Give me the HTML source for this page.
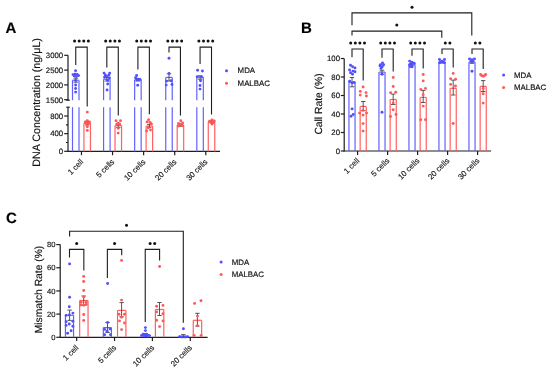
<!DOCTYPE html>
<html><head><meta charset="utf-8"><style>
html,body{margin:0;padding:0;background:#fff;}
body{width:550px;height:373px;overflow:hidden;}
svg{display:block;font-family:'Liberation Sans',sans-serif;text-rendering:geometricPrecision;filter:blur(0.3px);}
</style></head><body>
<svg width="550" height="373" viewBox="0 0 550 373" style="font-family:'Liberation Sans',sans-serif">
<rect width="550" height="373" fill="#fff"/>
<text x="5.60" y="32.80" font-size="15" text-anchor="start" font-weight="bold" fill="#000" stroke="#000" stroke-width="0.15">A</text>
<line x1="68.00" y1="55.30" x2="68.00" y2="100.20" stroke="#1e1e1e" stroke-width="1.2" />
<line x1="66.30" y1="100.20" x2="69.80" y2="100.20" stroke="#1e1e1e" stroke-width="1.2" />
<line x1="68.00" y1="107.20" x2="68.00" y2="151.90" stroke="#1e1e1e" stroke-width="1.2" />
<line x1="66.30" y1="107.20" x2="69.80" y2="107.20" stroke="#1e1e1e" stroke-width="1.2" />
<line x1="64.20" y1="55.30" x2="68.00" y2="55.30" stroke="#1e1e1e" stroke-width="1.2" />
<text x="63.20" y="58.10" font-size="7.8" text-anchor="end" font-weight="normal" fill="#111" stroke="#111" stroke-width="0.15">3000</text>
<line x1="64.20" y1="70.10" x2="68.00" y2="70.10" stroke="#1e1e1e" stroke-width="1.2" />
<text x="63.20" y="72.90" font-size="7.8" text-anchor="end" font-weight="normal" fill="#111" stroke="#111" stroke-width="0.15">2500</text>
<line x1="64.20" y1="84.90" x2="68.00" y2="84.90" stroke="#1e1e1e" stroke-width="1.2" />
<text x="63.20" y="87.70" font-size="7.8" text-anchor="end" font-weight="normal" fill="#111" stroke="#111" stroke-width="0.15">2000</text>
<line x1="64.20" y1="99.70" x2="68.00" y2="99.70" stroke="#1e1e1e" stroke-width="1.2" />
<text x="63.20" y="102.50" font-size="7.8" text-anchor="end" font-weight="normal" fill="#111" stroke="#111" stroke-width="0.15">1500</text>
<line x1="64.20" y1="116.02" x2="68.00" y2="116.02" stroke="#1e1e1e" stroke-width="1.2" />
<text x="63.20" y="118.82" font-size="7.8" text-anchor="end" font-weight="normal" fill="#111" stroke="#111" stroke-width="0.15">800</text>
<line x1="64.20" y1="133.66" x2="68.00" y2="133.66" stroke="#1e1e1e" stroke-width="1.2" />
<text x="63.20" y="136.46" font-size="7.8" text-anchor="end" font-weight="normal" fill="#111" stroke="#111" stroke-width="0.15">400</text>
<line x1="64.20" y1="151.30" x2="68.00" y2="151.30" stroke="#1e1e1e" stroke-width="1.2" />
<text x="63.20" y="154.10" font-size="7.8" text-anchor="end" font-weight="normal" fill="#111" stroke="#111" stroke-width="0.15">0</text>
<line x1="66.00" y1="124.84" x2="68.00" y2="124.84" stroke="#1e1e1e" stroke-width="1.2" />
<line x1="66.00" y1="142.48" x2="68.00" y2="142.48" stroke="#1e1e1e" stroke-width="1.2" />
<line x1="67.50" y1="151.40" x2="220.00" y2="151.40" stroke="#1e1e1e" stroke-width="1.2" />
<line x1="81.47" y1="151.40" x2="81.47" y2="155.20" stroke="#1e1e1e" stroke-width="1.2" />
<text x="83.77" y="162.40" font-size="7.8" text-anchor="end" font-weight="normal" fill="#111" stroke="#111" stroke-width="0.15" transform="rotate(-45 83.77 162.40)">1 cell</text>
<line x1="112.56" y1="151.40" x2="112.56" y2="155.20" stroke="#1e1e1e" stroke-width="1.2" />
<text x="114.86" y="162.40" font-size="7.8" text-anchor="end" font-weight="normal" fill="#111" stroke="#111" stroke-width="0.15" transform="rotate(-45 114.86 162.40)">5 cells</text>
<line x1="143.63" y1="151.40" x2="143.63" y2="155.20" stroke="#1e1e1e" stroke-width="1.2" />
<text x="145.94" y="162.40" font-size="7.8" text-anchor="end" font-weight="normal" fill="#111" stroke="#111" stroke-width="0.15" transform="rotate(-45 145.94 162.40)">10 cells</text>
<line x1="174.72" y1="151.40" x2="174.72" y2="155.20" stroke="#1e1e1e" stroke-width="1.2" />
<text x="177.02" y="162.40" font-size="7.8" text-anchor="end" font-weight="normal" fill="#111" stroke="#111" stroke-width="0.15" transform="rotate(-45 177.02 162.40)">20 cells</text>
<line x1="205.79" y1="151.40" x2="205.79" y2="155.20" stroke="#1e1e1e" stroke-width="1.2" />
<text x="208.09" y="162.40" font-size="7.8" text-anchor="end" font-weight="normal" fill="#111" stroke="#111" stroke-width="0.15" transform="rotate(-45 208.09 162.40)">30 cells</text>
<text x="40.30" y="102.40" font-size="10.7" text-anchor="middle" font-weight="normal" fill="#111" stroke="#111" stroke-width="0.15" transform="rotate(-90 40.30 102.40)">DNA Concentration (ng/&#956;L)</text>
<line x1="72.50" y1="80.20" x2="72.50" y2="100.20" stroke="#6262ff" stroke-width="1.2" />
<line x1="79.00" y1="80.20" x2="79.00" y2="100.20" stroke="#6262ff" stroke-width="1.2" />
<line x1="72.50" y1="107.20" x2="72.50" y2="151.40" stroke="#6262ff" stroke-width="1.2" />
<line x1="79.00" y1="107.20" x2="79.00" y2="151.40" stroke="#6262ff" stroke-width="1.2" />
<line x1="72.50" y1="80.20" x2="79.00" y2="80.20" stroke="#6262ff" stroke-width="1.2" />
<line x1="83.95" y1="123.30" x2="83.95" y2="151.40" stroke="#ff6060" stroke-width="1.2" />
<line x1="90.45" y1="123.30" x2="90.45" y2="151.40" stroke="#ff6060" stroke-width="1.2" />
<line x1="83.95" y1="123.30" x2="90.45" y2="123.30" stroke="#ff6060" stroke-width="1.2" />
<line x1="103.58" y1="79.20" x2="103.58" y2="100.20" stroke="#6262ff" stroke-width="1.2" />
<line x1="110.08" y1="79.20" x2="110.08" y2="100.20" stroke="#6262ff" stroke-width="1.2" />
<line x1="103.58" y1="107.20" x2="103.58" y2="151.40" stroke="#6262ff" stroke-width="1.2" />
<line x1="110.08" y1="107.20" x2="110.08" y2="151.40" stroke="#6262ff" stroke-width="1.2" />
<line x1="103.58" y1="79.20" x2="110.08" y2="79.20" stroke="#6262ff" stroke-width="1.2" />
<line x1="115.03" y1="125.60" x2="115.03" y2="151.40" stroke="#ff6060" stroke-width="1.2" />
<line x1="121.53" y1="125.60" x2="121.53" y2="151.40" stroke="#ff6060" stroke-width="1.2" />
<line x1="115.03" y1="125.60" x2="121.53" y2="125.60" stroke="#ff6060" stroke-width="1.2" />
<line x1="134.66" y1="79.80" x2="134.66" y2="100.20" stroke="#6262ff" stroke-width="1.2" />
<line x1="141.16" y1="79.80" x2="141.16" y2="100.20" stroke="#6262ff" stroke-width="1.2" />
<line x1="134.66" y1="107.20" x2="134.66" y2="151.40" stroke="#6262ff" stroke-width="1.2" />
<line x1="141.16" y1="107.20" x2="141.16" y2="151.40" stroke="#6262ff" stroke-width="1.2" />
<line x1="134.66" y1="79.80" x2="141.16" y2="79.80" stroke="#6262ff" stroke-width="1.2" />
<line x1="146.11" y1="126.10" x2="146.11" y2="151.40" stroke="#ff6060" stroke-width="1.2" />
<line x1="152.61" y1="126.10" x2="152.61" y2="151.40" stroke="#ff6060" stroke-width="1.2" />
<line x1="146.11" y1="126.10" x2="152.61" y2="126.10" stroke="#ff6060" stroke-width="1.2" />
<line x1="165.74" y1="77.40" x2="165.74" y2="100.20" stroke="#6262ff" stroke-width="1.2" />
<line x1="172.24" y1="77.40" x2="172.24" y2="100.20" stroke="#6262ff" stroke-width="1.2" />
<line x1="165.74" y1="107.20" x2="165.74" y2="151.40" stroke="#6262ff" stroke-width="1.2" />
<line x1="172.24" y1="107.20" x2="172.24" y2="151.40" stroke="#6262ff" stroke-width="1.2" />
<line x1="165.74" y1="77.40" x2="172.24" y2="77.40" stroke="#6262ff" stroke-width="1.2" />
<line x1="177.19" y1="125.00" x2="177.19" y2="151.40" stroke="#ff6060" stroke-width="1.2" />
<line x1="183.69" y1="125.00" x2="183.69" y2="151.40" stroke="#ff6060" stroke-width="1.2" />
<line x1="177.19" y1="125.00" x2="183.69" y2="125.00" stroke="#ff6060" stroke-width="1.2" />
<line x1="196.82" y1="77.20" x2="196.82" y2="100.20" stroke="#6262ff" stroke-width="1.2" />
<line x1="203.32" y1="77.20" x2="203.32" y2="100.20" stroke="#6262ff" stroke-width="1.2" />
<line x1="196.82" y1="107.20" x2="196.82" y2="151.40" stroke="#6262ff" stroke-width="1.2" />
<line x1="203.32" y1="107.20" x2="203.32" y2="151.40" stroke="#6262ff" stroke-width="1.2" />
<line x1="196.82" y1="77.20" x2="203.32" y2="77.20" stroke="#6262ff" stroke-width="1.2" />
<line x1="208.27" y1="121.70" x2="208.27" y2="151.40" stroke="#ff6060" stroke-width="1.2" />
<line x1="214.77" y1="121.70" x2="214.77" y2="151.40" stroke="#ff6060" stroke-width="1.2" />
<line x1="208.27" y1="121.70" x2="214.77" y2="121.70" stroke="#ff6060" stroke-width="1.2" />
<path d="M75.75,65.10 L75.75,47.10 L87.20,47.10 L87.20,106.40" stroke="#1e1e1e" stroke-width="1.1" fill="none"/>
<circle cx="74.57" cy="41.00" r="1.5" fill="#111"/>
<circle cx="79.17" cy="41.00" r="1.5" fill="#111"/>
<circle cx="83.77" cy="41.00" r="1.5" fill="#111"/>
<circle cx="88.37" cy="41.00" r="1.5" fill="#111"/>
<path d="M106.83,67.50 L106.83,47.10 L118.28,47.10 L118.28,115.40" stroke="#1e1e1e" stroke-width="1.1" fill="none"/>
<circle cx="105.66" cy="41.00" r="1.5" fill="#111"/>
<circle cx="110.25" cy="41.00" r="1.5" fill="#111"/>
<circle cx="114.86" cy="41.00" r="1.5" fill="#111"/>
<circle cx="119.45" cy="41.00" r="1.5" fill="#111"/>
<path d="M137.91,69.60 L137.91,47.10 L149.36,47.10 L149.36,114.30" stroke="#1e1e1e" stroke-width="1.1" fill="none"/>
<circle cx="136.73" cy="41.00" r="1.5" fill="#111"/>
<circle cx="141.33" cy="41.00" r="1.5" fill="#111"/>
<circle cx="145.93" cy="41.00" r="1.5" fill="#111"/>
<circle cx="150.53" cy="41.00" r="1.5" fill="#111"/>
<path d="M168.99,52.40 L168.99,47.10 L180.44,47.10 L180.44,115.40" stroke="#1e1e1e" stroke-width="1.1" fill="none"/>
<circle cx="167.81" cy="41.00" r="1.5" fill="#111"/>
<circle cx="172.41" cy="41.00" r="1.5" fill="#111"/>
<circle cx="177.01" cy="41.00" r="1.5" fill="#111"/>
<circle cx="181.62" cy="41.00" r="1.5" fill="#111"/>
<path d="M200.07,64.10 L200.07,47.10 L211.52,47.10 L211.52,114.50" stroke="#1e1e1e" stroke-width="1.1" fill="none"/>
<circle cx="198.89" cy="41.00" r="1.5" fill="#111"/>
<circle cx="203.49" cy="41.00" r="1.5" fill="#111"/>
<circle cx="208.09" cy="41.00" r="1.5" fill="#111"/>
<circle cx="212.69" cy="41.00" r="1.5" fill="#111"/>
<line x1="75.75" y1="78.20" x2="75.75" y2="82.20" stroke="#444" stroke-width="0.9" />
<line x1="73.55" y1="78.20" x2="77.95" y2="78.20" stroke="#444" stroke-width="0.9" />
<line x1="73.55" y1="82.20" x2="77.95" y2="82.20" stroke="#444" stroke-width="0.9" />
<line x1="106.83" y1="77.40" x2="106.83" y2="81.00" stroke="#444" stroke-width="0.9" />
<line x1="104.63" y1="77.40" x2="109.03" y2="77.40" stroke="#444" stroke-width="0.9" />
<line x1="104.63" y1="81.00" x2="109.03" y2="81.00" stroke="#444" stroke-width="0.9" />
<line x1="137.91" y1="78.60" x2="137.91" y2="81.00" stroke="#444" stroke-width="0.9" />
<line x1="135.71" y1="78.60" x2="140.11" y2="78.60" stroke="#444" stroke-width="0.9" />
<line x1="135.71" y1="81.00" x2="140.11" y2="81.00" stroke="#444" stroke-width="0.9" />
<line x1="168.99" y1="73.80" x2="168.99" y2="81.00" stroke="#444" stroke-width="0.9" />
<line x1="166.79" y1="73.80" x2="171.19" y2="73.80" stroke="#444" stroke-width="0.9" />
<line x1="166.79" y1="81.00" x2="171.19" y2="81.00" stroke="#444" stroke-width="0.9" />
<line x1="200.07" y1="75.80" x2="200.07" y2="79.20" stroke="#444" stroke-width="0.9" />
<line x1="197.87" y1="75.80" x2="202.27" y2="75.80" stroke="#444" stroke-width="0.9" />
<line x1="197.87" y1="79.20" x2="202.27" y2="79.20" stroke="#444" stroke-width="0.9" />
<line x1="87.20" y1="121.60" x2="87.20" y2="125.00" stroke="#444" stroke-width="0.9" />
<line x1="85.00" y1="121.60" x2="89.40" y2="121.60" stroke="#444" stroke-width="0.9" />
<line x1="85.00" y1="125.00" x2="89.40" y2="125.00" stroke="#444" stroke-width="0.9" />
<line x1="118.28" y1="123.80" x2="118.28" y2="127.40" stroke="#444" stroke-width="0.9" />
<line x1="116.08" y1="123.80" x2="120.48" y2="123.80" stroke="#444" stroke-width="0.9" />
<line x1="116.08" y1="127.40" x2="120.48" y2="127.40" stroke="#444" stroke-width="0.9" />
<line x1="149.36" y1="124.40" x2="149.36" y2="127.80" stroke="#444" stroke-width="0.9" />
<line x1="147.16" y1="124.40" x2="151.56" y2="124.40" stroke="#444" stroke-width="0.9" />
<line x1="147.16" y1="127.80" x2="151.56" y2="127.80" stroke="#444" stroke-width="0.9" />
<line x1="180.44" y1="124.00" x2="180.44" y2="126.20" stroke="#444" stroke-width="0.9" />
<line x1="178.24" y1="124.00" x2="182.64" y2="124.00" stroke="#444" stroke-width="0.9" />
<line x1="178.24" y1="126.20" x2="182.64" y2="126.20" stroke="#444" stroke-width="0.9" />
<line x1="211.52" y1="120.80" x2="211.52" y2="122.60" stroke="#444" stroke-width="0.9" />
<line x1="209.32" y1="120.80" x2="213.72" y2="120.80" stroke="#444" stroke-width="0.9" />
<line x1="209.32" y1="122.60" x2="213.72" y2="122.60" stroke="#444" stroke-width="0.9" />
<circle cx="75.60" cy="70.80" r="1.45" fill="#5050ff"/>
<circle cx="73.00" cy="74.60" r="1.45" fill="#5050ff"/>
<circle cx="75.00" cy="74.20" r="1.45" fill="#5050ff"/>
<circle cx="77.20" cy="74.40" r="1.45" fill="#5050ff"/>
<circle cx="78.60" cy="75.60" r="1.45" fill="#5050ff"/>
<circle cx="74.20" cy="76.00" r="1.45" fill="#5050ff"/>
<circle cx="76.40" cy="76.60" r="1.45" fill="#5050ff"/>
<circle cx="75.60" cy="80.50" r="1.45" fill="#5050ff"/>
<circle cx="75.60" cy="85.00" r="1.45" fill="#5050ff"/>
<circle cx="75.60" cy="88.50" r="1.45" fill="#5050ff"/>
<circle cx="75.60" cy="92.10" r="1.45" fill="#5050ff"/>
<circle cx="87.30" cy="112.10" r="1.45" fill="#ff5858"/>
<circle cx="87.30" cy="120.60" r="1.45" fill="#ff5858"/>
<circle cx="85.20" cy="122.00" r="1.45" fill="#ff5858"/>
<circle cx="89.50" cy="122.00" r="1.45" fill="#ff5858"/>
<circle cx="86.40" cy="123.30" r="1.45" fill="#ff5858"/>
<circle cx="88.40" cy="123.60" r="1.45" fill="#ff5858"/>
<circle cx="87.30" cy="126.70" r="1.45" fill="#ff5858"/>
<circle cx="87.30" cy="130.40" r="1.45" fill="#ff5858"/>
<circle cx="104.00" cy="73.10" r="1.45" fill="#5050ff"/>
<circle cx="109.70" cy="73.10" r="1.45" fill="#5050ff"/>
<circle cx="105.30" cy="74.90" r="1.45" fill="#5050ff"/>
<circle cx="108.90" cy="74.90" r="1.45" fill="#5050ff"/>
<circle cx="107.10" cy="76.50" r="1.45" fill="#5050ff"/>
<circle cx="104.60" cy="77.30" r="1.45" fill="#5050ff"/>
<circle cx="109.50" cy="77.90" r="1.45" fill="#5050ff"/>
<circle cx="107.70" cy="80.40" r="1.45" fill="#5050ff"/>
<circle cx="107.70" cy="84.00" r="1.45" fill="#5050ff"/>
<circle cx="107.10" cy="90.00" r="1.45" fill="#5050ff"/>
<circle cx="116.00" cy="120.70" r="1.45" fill="#ff5858"/>
<circle cx="120.50" cy="120.70" r="1.45" fill="#ff5858"/>
<circle cx="118.20" cy="123.30" r="1.45" fill="#ff5858"/>
<circle cx="116.90" cy="124.20" r="1.45" fill="#ff5858"/>
<circle cx="119.60" cy="124.20" r="1.45" fill="#ff5858"/>
<circle cx="118.20" cy="128.20" r="1.45" fill="#ff5858"/>
<circle cx="118.20" cy="133.10" r="1.45" fill="#ff5858"/>
<circle cx="136.60" cy="75.50" r="1.45" fill="#5050ff"/>
<circle cx="135.60" cy="77.70" r="1.45" fill="#5050ff"/>
<circle cx="138.10" cy="79.30" r="1.45" fill="#5050ff"/>
<circle cx="140.00" cy="79.50" r="1.45" fill="#5050ff"/>
<circle cx="136.80" cy="79.80" r="1.45" fill="#5050ff"/>
<circle cx="137.70" cy="85.20" r="1.45" fill="#5050ff"/>
<circle cx="148.60" cy="119.70" r="1.45" fill="#ff5858"/>
<circle cx="147.10" cy="121.90" r="1.45" fill="#ff5858"/>
<circle cx="150.10" cy="122.50" r="1.45" fill="#ff5858"/>
<circle cx="151.40" cy="124.00" r="1.45" fill="#ff5858"/>
<circle cx="148.10" cy="127.70" r="1.45" fill="#ff5858"/>
<circle cx="146.60" cy="130.90" r="1.45" fill="#ff5858"/>
<circle cx="150.50" cy="130.10" r="1.45" fill="#ff5858"/>
<circle cx="169.00" cy="58.30" r="1.45" fill="#5050ff"/>
<circle cx="169.00" cy="73.40" r="1.45" fill="#5050ff"/>
<circle cx="166.60" cy="81.10" r="1.45" fill="#5050ff"/>
<circle cx="171.20" cy="80.80" r="1.45" fill="#5050ff"/>
<circle cx="166.20" cy="85.10" r="1.45" fill="#5050ff"/>
<circle cx="172.00" cy="84.50" r="1.45" fill="#5050ff"/>
<circle cx="180.80" cy="120.70" r="1.45" fill="#ff5858"/>
<circle cx="178.50" cy="123.40" r="1.45" fill="#ff5858"/>
<circle cx="182.60" cy="123.00" r="1.45" fill="#ff5858"/>
<circle cx="180.00" cy="124.50" r="1.45" fill="#ff5858"/>
<circle cx="178.60" cy="126.10" r="1.45" fill="#ff5858"/>
<circle cx="182.30" cy="125.80" r="1.45" fill="#ff5858"/>
<circle cx="197.60" cy="70.30" r="1.45" fill="#5050ff"/>
<circle cx="202.40" cy="71.00" r="1.45" fill="#5050ff"/>
<circle cx="197.20" cy="76.80" r="1.45" fill="#5050ff"/>
<circle cx="201.50" cy="77.00" r="1.45" fill="#5050ff"/>
<circle cx="200.50" cy="80.80" r="1.45" fill="#5050ff"/>
<circle cx="200.00" cy="85.50" r="1.45" fill="#5050ff"/>
<circle cx="200.00" cy="89.10" r="1.45" fill="#5050ff"/>
<circle cx="212.00" cy="119.90" r="1.45" fill="#ff5858"/>
<circle cx="209.60" cy="121.30" r="1.45" fill="#ff5858"/>
<circle cx="214.30" cy="121.00" r="1.45" fill="#ff5858"/>
<circle cx="211.00" cy="122.60" r="1.45" fill="#ff5858"/>
<circle cx="213.20" cy="122.80" r="1.45" fill="#ff5858"/>
<circle cx="212.00" cy="124.00" r="1.45" fill="#ff5858"/>
<circle cx="226.50" cy="70.70" r="1.5" fill="#5050ff"/>
<circle cx="226.50" cy="83.30" r="1.5" fill="#ff5858"/>
<text x="237.60" y="73.30" font-size="7.85" text-anchor="start" font-weight="normal" fill="#111" stroke="#111" stroke-width="0.15">MDA</text>
<text x="237.60" y="85.90" font-size="7.85" text-anchor="start" font-weight="normal" fill="#111" stroke="#111" stroke-width="0.15">MALBAC</text>
<text x="301.00" y="32.90" font-size="15" text-anchor="start" font-weight="bold" fill="#000" stroke="#000" stroke-width="0.15">B</text>
<line x1="344.20" y1="58.50" x2="344.20" y2="151.60" stroke="#1e1e1e" stroke-width="1.2" />
<line x1="340.80" y1="58.50" x2="344.20" y2="58.50" stroke="#1e1e1e" stroke-width="1.2" />
<text x="340.00" y="61.30" font-size="7.8" text-anchor="end" font-weight="normal" fill="#111" stroke="#111" stroke-width="0.15">100</text>
<line x1="340.80" y1="77.00" x2="344.20" y2="77.00" stroke="#1e1e1e" stroke-width="1.2" />
<text x="340.00" y="79.80" font-size="7.8" text-anchor="end" font-weight="normal" fill="#111" stroke="#111" stroke-width="0.15">80</text>
<line x1="340.80" y1="95.50" x2="344.20" y2="95.50" stroke="#1e1e1e" stroke-width="1.2" />
<text x="340.00" y="98.30" font-size="7.8" text-anchor="end" font-weight="normal" fill="#111" stroke="#111" stroke-width="0.15">60</text>
<line x1="340.80" y1="114.00" x2="344.20" y2="114.00" stroke="#1e1e1e" stroke-width="1.2" />
<text x="340.00" y="116.80" font-size="7.8" text-anchor="end" font-weight="normal" fill="#111" stroke="#111" stroke-width="0.15">40</text>
<line x1="340.80" y1="132.50" x2="344.20" y2="132.50" stroke="#1e1e1e" stroke-width="1.2" />
<text x="340.00" y="135.30" font-size="7.8" text-anchor="end" font-weight="normal" fill="#111" stroke="#111" stroke-width="0.15">20</text>
<line x1="340.80" y1="151.00" x2="344.20" y2="151.00" stroke="#1e1e1e" stroke-width="1.2" />
<text x="340.00" y="153.80" font-size="7.8" text-anchor="end" font-weight="normal" fill="#111" stroke="#111" stroke-width="0.15">0</text>
<line x1="343.70" y1="151.00" x2="491.10" y2="151.00" stroke="#1e1e1e" stroke-width="1.2" />
<line x1="357.60" y1="151.00" x2="357.60" y2="154.90" stroke="#1e1e1e" stroke-width="1.2" />
<text x="359.90" y="161.30" font-size="7.8" text-anchor="end" font-weight="normal" fill="#111" stroke="#111" stroke-width="0.15" transform="rotate(-45 359.90 161.30)">1 cell</text>
<line x1="387.60" y1="151.00" x2="387.60" y2="154.90" stroke="#1e1e1e" stroke-width="1.2" />
<text x="389.90" y="161.30" font-size="7.8" text-anchor="end" font-weight="normal" fill="#111" stroke="#111" stroke-width="0.15" transform="rotate(-45 389.90 161.30)">5 cells</text>
<line x1="417.60" y1="151.00" x2="417.60" y2="154.90" stroke="#1e1e1e" stroke-width="1.2" />
<text x="419.90" y="161.30" font-size="7.8" text-anchor="end" font-weight="normal" fill="#111" stroke="#111" stroke-width="0.15" transform="rotate(-45 419.90 161.30)">10 cells</text>
<line x1="447.60" y1="151.00" x2="447.60" y2="154.90" stroke="#1e1e1e" stroke-width="1.2" />
<text x="449.90" y="161.30" font-size="7.8" text-anchor="end" font-weight="normal" fill="#111" stroke="#111" stroke-width="0.15" transform="rotate(-45 449.90 161.30)">20 cells</text>
<line x1="477.60" y1="151.00" x2="477.60" y2="154.90" stroke="#1e1e1e" stroke-width="1.2" />
<text x="479.90" y="161.30" font-size="7.8" text-anchor="end" font-weight="normal" fill="#111" stroke="#111" stroke-width="0.15" transform="rotate(-45 479.90 161.30)">30 cells</text>
<text x="322.40" y="104.00" font-size="10.3" text-anchor="middle" font-weight="normal" fill="#111" stroke="#111" stroke-width="0.15" transform="rotate(-90 322.40 104.00)">Call Rate (%)</text>
<line x1="348.95" y1="82.30" x2="348.95" y2="151.00" stroke="#6262ff" stroke-width="1.2" />
<line x1="355.05" y1="82.30" x2="355.05" y2="151.00" stroke="#6262ff" stroke-width="1.2" />
<line x1="348.95" y1="82.30" x2="355.05" y2="82.30" stroke="#6262ff" stroke-width="1.2" />
<line x1="360.15" y1="106.40" x2="360.15" y2="151.00" stroke="#ff6060" stroke-width="1.2" />
<line x1="366.25" y1="106.40" x2="366.25" y2="151.00" stroke="#ff6060" stroke-width="1.2" />
<line x1="360.15" y1="106.40" x2="366.25" y2="106.40" stroke="#ff6060" stroke-width="1.2" />
<line x1="378.95" y1="72.10" x2="378.95" y2="151.00" stroke="#6262ff" stroke-width="1.2" />
<line x1="385.05" y1="72.10" x2="385.05" y2="151.00" stroke="#6262ff" stroke-width="1.2" />
<line x1="378.95" y1="72.10" x2="385.05" y2="72.10" stroke="#6262ff" stroke-width="1.2" />
<line x1="390.15" y1="99.50" x2="390.15" y2="151.00" stroke="#ff6060" stroke-width="1.2" />
<line x1="396.25" y1="99.50" x2="396.25" y2="151.00" stroke="#ff6060" stroke-width="1.2" />
<line x1="390.15" y1="99.50" x2="396.25" y2="99.50" stroke="#ff6060" stroke-width="1.2" />
<line x1="408.95" y1="64.30" x2="408.95" y2="151.00" stroke="#6262ff" stroke-width="1.2" />
<line x1="415.05" y1="64.30" x2="415.05" y2="151.00" stroke="#6262ff" stroke-width="1.2" />
<line x1="408.95" y1="64.30" x2="415.05" y2="64.30" stroke="#6262ff" stroke-width="1.2" />
<line x1="420.15" y1="97.40" x2="420.15" y2="151.00" stroke="#ff6060" stroke-width="1.2" />
<line x1="426.25" y1="97.40" x2="426.25" y2="151.00" stroke="#ff6060" stroke-width="1.2" />
<line x1="420.15" y1="97.40" x2="426.25" y2="97.40" stroke="#ff6060" stroke-width="1.2" />
<line x1="438.95" y1="62.10" x2="438.95" y2="151.00" stroke="#6262ff" stroke-width="1.2" />
<line x1="445.05" y1="62.10" x2="445.05" y2="151.00" stroke="#6262ff" stroke-width="1.2" />
<line x1="438.95" y1="62.10" x2="445.05" y2="62.10" stroke="#6262ff" stroke-width="1.2" />
<line x1="450.15" y1="88.30" x2="450.15" y2="151.00" stroke="#ff6060" stroke-width="1.2" />
<line x1="456.25" y1="88.30" x2="456.25" y2="151.00" stroke="#ff6060" stroke-width="1.2" />
<line x1="450.15" y1="88.30" x2="456.25" y2="88.30" stroke="#ff6060" stroke-width="1.2" />
<line x1="468.95" y1="62.10" x2="468.95" y2="151.00" stroke="#6262ff" stroke-width="1.2" />
<line x1="475.05" y1="62.10" x2="475.05" y2="151.00" stroke="#6262ff" stroke-width="1.2" />
<line x1="468.95" y1="62.10" x2="475.05" y2="62.10" stroke="#6262ff" stroke-width="1.2" />
<line x1="480.15" y1="86.40" x2="480.15" y2="151.00" stroke="#ff6060" stroke-width="1.2" />
<line x1="486.25" y1="86.40" x2="486.25" y2="151.00" stroke="#ff6060" stroke-width="1.2" />
<line x1="480.15" y1="86.40" x2="486.25" y2="86.40" stroke="#ff6060" stroke-width="1.2" />
<path d="M352.00,57.30 L352.00,49.00 L363.20,49.00 L363.20,80.50" stroke="#1e1e1e" stroke-width="1.1" fill="none"/>
<circle cx="350.70" cy="42.90" r="1.5" fill="#111"/>
<circle cx="355.30" cy="42.90" r="1.5" fill="#111"/>
<circle cx="359.90" cy="42.90" r="1.5" fill="#111"/>
<circle cx="364.50" cy="42.90" r="1.5" fill="#111"/>
<path d="M382.00,57.70 L382.00,49.00 L393.20,49.00 L393.20,71.60" stroke="#1e1e1e" stroke-width="1.1" fill="none"/>
<circle cx="380.70" cy="42.90" r="1.5" fill="#111"/>
<circle cx="385.30" cy="42.90" r="1.5" fill="#111"/>
<circle cx="389.90" cy="42.90" r="1.5" fill="#111"/>
<circle cx="394.50" cy="42.90" r="1.5" fill="#111"/>
<path d="M412.00,55.70 L412.00,49.00 L423.20,49.00 L423.20,68.60" stroke="#1e1e1e" stroke-width="1.1" fill="none"/>
<circle cx="410.70" cy="42.90" r="1.5" fill="#111"/>
<circle cx="415.30" cy="42.90" r="1.5" fill="#111"/>
<circle cx="419.90" cy="42.90" r="1.5" fill="#111"/>
<circle cx="424.50" cy="42.90" r="1.5" fill="#111"/>
<path d="M442.00,54.10 L442.00,49.00 L453.20,49.00 L453.20,67.50" stroke="#1e1e1e" stroke-width="1.1" fill="none"/>
<circle cx="445.30" cy="42.90" r="1.5" fill="#111"/>
<circle cx="449.90" cy="42.90" r="1.5" fill="#111"/>
<path d="M472.00,54.10 L472.00,49.00 L483.20,49.00 L483.20,69.10" stroke="#1e1e1e" stroke-width="1.1" fill="none"/>
<circle cx="475.30" cy="42.90" r="1.5" fill="#111"/>
<circle cx="479.90" cy="42.90" r="1.5" fill="#111"/>
<path d="M352.00,25.30 L352.00,12.90 L471.80,12.90 L471.80,35.60" stroke="#1e1e1e" stroke-width="1.1" fill="none"/>
<circle cx="412.00" cy="7.20" r="1.5" fill="#111"/>
<path d="M352.00,35.60 L352.00,31.10 L441.80,31.10 L441.80,37.70" stroke="#1e1e1e" stroke-width="1.1" fill="none"/>
<circle cx="396.80" cy="25.00" r="1.5" fill="#111"/>
<line x1="352.00" y1="77.50" x2="352.00" y2="86.80" stroke="#444" stroke-width="0.9" />
<line x1="349.80" y1="77.50" x2="354.20" y2="77.50" stroke="#444" stroke-width="0.9" />
<line x1="349.80" y1="86.80" x2="354.20" y2="86.80" stroke="#444" stroke-width="0.9" />
<line x1="363.20" y1="101.50" x2="363.20" y2="110.60" stroke="#444" stroke-width="0.9" />
<line x1="361.00" y1="101.50" x2="365.40" y2="101.50" stroke="#444" stroke-width="0.9" />
<line x1="361.00" y1="110.60" x2="365.40" y2="110.60" stroke="#444" stroke-width="0.9" />
<line x1="382.00" y1="70.20" x2="382.00" y2="74.30" stroke="#444" stroke-width="0.9" />
<line x1="379.80" y1="70.20" x2="384.20" y2="70.20" stroke="#444" stroke-width="0.9" />
<line x1="379.80" y1="74.30" x2="384.20" y2="74.30" stroke="#444" stroke-width="0.9" />
<line x1="393.20" y1="94.10" x2="393.20" y2="104.50" stroke="#444" stroke-width="0.9" />
<line x1="391.00" y1="94.10" x2="395.40" y2="94.10" stroke="#444" stroke-width="0.9" />
<line x1="391.00" y1="104.50" x2="395.40" y2="104.50" stroke="#444" stroke-width="0.9" />
<line x1="412.00" y1="63.00" x2="412.00" y2="65.80" stroke="#444" stroke-width="0.9" />
<line x1="409.80" y1="63.00" x2="414.20" y2="63.00" stroke="#444" stroke-width="0.9" />
<line x1="409.80" y1="65.80" x2="414.20" y2="65.80" stroke="#444" stroke-width="0.9" />
<line x1="423.20" y1="90.40" x2="423.20" y2="102.50" stroke="#444" stroke-width="0.9" />
<line x1="421.00" y1="90.40" x2="425.40" y2="90.40" stroke="#444" stroke-width="0.9" />
<line x1="421.00" y1="102.50" x2="425.40" y2="102.50" stroke="#444" stroke-width="0.9" />
<line x1="442.00" y1="61.20" x2="442.00" y2="63.00" stroke="#444" stroke-width="0.9" />
<line x1="439.80" y1="61.20" x2="444.20" y2="61.20" stroke="#444" stroke-width="0.9" />
<line x1="439.80" y1="63.00" x2="444.20" y2="63.00" stroke="#444" stroke-width="0.9" />
<line x1="453.20" y1="80.10" x2="453.20" y2="95.00" stroke="#444" stroke-width="0.9" />
<line x1="451.00" y1="80.10" x2="455.40" y2="80.10" stroke="#444" stroke-width="0.9" />
<line x1="451.00" y1="95.00" x2="455.40" y2="95.00" stroke="#444" stroke-width="0.9" />
<line x1="472.00" y1="61.00" x2="472.00" y2="63.30" stroke="#444" stroke-width="0.9" />
<line x1="469.80" y1="61.00" x2="474.20" y2="61.00" stroke="#444" stroke-width="0.9" />
<line x1="469.80" y1="63.30" x2="474.20" y2="63.30" stroke="#444" stroke-width="0.9" />
<line x1="483.20" y1="80.60" x2="483.20" y2="91.50" stroke="#444" stroke-width="0.9" />
<line x1="481.00" y1="80.60" x2="485.40" y2="80.60" stroke="#444" stroke-width="0.9" />
<line x1="481.00" y1="91.50" x2="485.40" y2="91.50" stroke="#444" stroke-width="0.9" />
<circle cx="350.50" cy="65.20" r="1.45" fill="#5050ff"/>
<circle cx="352.60" cy="66.80" r="1.45" fill="#5050ff"/>
<circle cx="355.00" cy="67.90" r="1.45" fill="#5050ff"/>
<circle cx="349.60" cy="70.00" r="1.45" fill="#5050ff"/>
<circle cx="353.00" cy="71.10" r="1.45" fill="#5050ff"/>
<circle cx="355.00" cy="71.70" r="1.45" fill="#5050ff"/>
<circle cx="350.60" cy="72.70" r="1.45" fill="#5050ff"/>
<circle cx="352.50" cy="74.30" r="1.45" fill="#5050ff"/>
<circle cx="349.60" cy="81.30" r="1.45" fill="#5050ff"/>
<circle cx="352.00" cy="82.90" r="1.45" fill="#5050ff"/>
<circle cx="354.20" cy="82.50" r="1.45" fill="#5050ff"/>
<circle cx="352.10" cy="108.90" r="1.45" fill="#5050ff"/>
<circle cx="353.20" cy="114.50" r="1.45" fill="#5050ff"/>
<circle cx="351.00" cy="116.30" r="1.45" fill="#5050ff"/>
<circle cx="363.10" cy="87.00" r="1.45" fill="#ff5858"/>
<circle cx="360.30" cy="91.40" r="1.45" fill="#ff5858"/>
<circle cx="366.00" cy="92.60" r="1.45" fill="#ff5858"/>
<circle cx="360.20" cy="95.10" r="1.45" fill="#ff5858"/>
<circle cx="366.40" cy="96.00" r="1.45" fill="#ff5858"/>
<circle cx="363.10" cy="110.40" r="1.45" fill="#ff5858"/>
<circle cx="359.60" cy="113.10" r="1.45" fill="#ff5858"/>
<circle cx="366.60" cy="113.10" r="1.45" fill="#ff5858"/>
<circle cx="363.10" cy="115.10" r="1.45" fill="#ff5858"/>
<circle cx="363.10" cy="123.60" r="1.45" fill="#ff5858"/>
<circle cx="363.10" cy="131.10" r="1.45" fill="#ff5858"/>
<circle cx="382.50" cy="63.00" r="1.45" fill="#5050ff"/>
<circle cx="380.50" cy="64.60" r="1.45" fill="#5050ff"/>
<circle cx="383.60" cy="64.80" r="1.45" fill="#5050ff"/>
<circle cx="380.00" cy="65.80" r="1.45" fill="#5050ff"/>
<circle cx="382.20" cy="66.80" r="1.45" fill="#5050ff"/>
<circle cx="381.00" cy="68.40" r="1.45" fill="#5050ff"/>
<circle cx="382.00" cy="74.30" r="1.45" fill="#5050ff"/>
<circle cx="382.00" cy="112.20" r="1.45" fill="#5050ff"/>
<circle cx="393.20" cy="77.50" r="1.45" fill="#ff5858"/>
<circle cx="393.20" cy="86.50" r="1.45" fill="#ff5858"/>
<circle cx="390.60" cy="92.80" r="1.45" fill="#ff5858"/>
<circle cx="395.70" cy="92.30" r="1.45" fill="#ff5858"/>
<circle cx="393.20" cy="103.10" r="1.45" fill="#ff5858"/>
<circle cx="393.20" cy="109.80" r="1.45" fill="#ff5858"/>
<circle cx="390.60" cy="116.50" r="1.45" fill="#ff5858"/>
<circle cx="396.00" cy="114.50" r="1.45" fill="#ff5858"/>
<circle cx="409.60" cy="61.10" r="1.45" fill="#5050ff"/>
<circle cx="412.00" cy="62.10" r="1.45" fill="#5050ff"/>
<circle cx="414.20" cy="63.20" r="1.45" fill="#5050ff"/>
<circle cx="411.00" cy="63.60" r="1.45" fill="#5050ff"/>
<circle cx="409.60" cy="64.60" r="1.45" fill="#5050ff"/>
<circle cx="412.00" cy="66.90" r="1.45" fill="#5050ff"/>
<circle cx="410.20" cy="66.50" r="1.45" fill="#5050ff"/>
<circle cx="423.20" cy="74.50" r="1.45" fill="#ff5858"/>
<circle cx="423.20" cy="80.90" r="1.45" fill="#ff5858"/>
<circle cx="420.80" cy="89.40" r="1.45" fill="#ff5858"/>
<circle cx="425.50" cy="88.40" r="1.45" fill="#ff5858"/>
<circle cx="423.20" cy="94.70" r="1.45" fill="#ff5858"/>
<circle cx="423.20" cy="106.10" r="1.45" fill="#ff5858"/>
<circle cx="420.80" cy="119.80" r="1.45" fill="#ff5858"/>
<circle cx="425.50" cy="119.80" r="1.45" fill="#ff5858"/>
<circle cx="439.50" cy="59.50" r="1.45" fill="#5050ff"/>
<circle cx="444.50" cy="59.50" r="1.45" fill="#5050ff"/>
<circle cx="442.00" cy="61.20" r="1.45" fill="#5050ff"/>
<circle cx="439.60" cy="62.80" r="1.45" fill="#5050ff"/>
<circle cx="444.40" cy="62.80" r="1.45" fill="#5050ff"/>
<circle cx="442.00" cy="62.00" r="1.45" fill="#5050ff"/>
<circle cx="453.20" cy="73.40" r="1.45" fill="#ff5858"/>
<circle cx="450.60" cy="78.80" r="1.45" fill="#ff5858"/>
<circle cx="455.60" cy="79.30" r="1.45" fill="#ff5858"/>
<circle cx="450.60" cy="84.40" r="1.45" fill="#ff5858"/>
<circle cx="455.50" cy="86.00" r="1.45" fill="#ff5858"/>
<circle cx="453.20" cy="123.50" r="1.45" fill="#ff5858"/>
<circle cx="469.50" cy="58.90" r="1.45" fill="#5050ff"/>
<circle cx="472.00" cy="59.60" r="1.45" fill="#5050ff"/>
<circle cx="474.50" cy="58.90" r="1.45" fill="#5050ff"/>
<circle cx="471.00" cy="61.10" r="1.45" fill="#5050ff"/>
<circle cx="473.00" cy="61.10" r="1.45" fill="#5050ff"/>
<circle cx="472.00" cy="71.30" r="1.45" fill="#5050ff"/>
<circle cx="480.60" cy="74.50" r="1.45" fill="#ff5858"/>
<circle cx="485.60" cy="74.50" r="1.45" fill="#ff5858"/>
<circle cx="483.20" cy="76.30" r="1.45" fill="#ff5858"/>
<circle cx="481.60" cy="75.60" r="1.45" fill="#ff5858"/>
<circle cx="484.60" cy="75.60" r="1.45" fill="#ff5858"/>
<circle cx="483.20" cy="88.40" r="1.45" fill="#ff5858"/>
<circle cx="483.20" cy="93.70" r="1.45" fill="#ff5858"/>
<circle cx="483.20" cy="103.10" r="1.45" fill="#ff5858"/>
<circle cx="503.60" cy="74.90" r="1.5" fill="#5050ff"/>
<circle cx="503.60" cy="87.40" r="1.5" fill="#ff5858"/>
<text x="514.00" y="77.70" font-size="7.85" text-anchor="start" font-weight="normal" fill="#111" stroke="#111" stroke-width="0.15">MDA</text>
<text x="514.00" y="90.00" font-size="7.85" text-anchor="start" font-weight="normal" fill="#111" stroke="#111" stroke-width="0.15">MALBAC</text>
<text x="5.90" y="222.70" font-size="15" text-anchor="start" font-weight="bold" fill="#000" stroke="#000" stroke-width="0.15">C</text>
<line x1="60.20" y1="244.58" x2="60.20" y2="337.80" stroke="#1e1e1e" stroke-width="1.2" />
<line x1="56.30" y1="244.58" x2="60.20" y2="244.58" stroke="#1e1e1e" stroke-width="1.2" />
<text x="55.40" y="247.28" font-size="7.6" text-anchor="end" font-weight="normal" fill="#111" stroke="#111" stroke-width="0.15">80</text>
<line x1="56.30" y1="267.76" x2="60.20" y2="267.76" stroke="#1e1e1e" stroke-width="1.2" />
<text x="55.40" y="270.46" font-size="7.6" text-anchor="end" font-weight="normal" fill="#111" stroke="#111" stroke-width="0.15">60</text>
<line x1="56.30" y1="290.94" x2="60.20" y2="290.94" stroke="#1e1e1e" stroke-width="1.2" />
<text x="55.40" y="293.64" font-size="7.6" text-anchor="end" font-weight="normal" fill="#111" stroke="#111" stroke-width="0.15">40</text>
<line x1="56.30" y1="314.12" x2="60.20" y2="314.12" stroke="#1e1e1e" stroke-width="1.2" />
<text x="55.40" y="316.82" font-size="7.6" text-anchor="end" font-weight="normal" fill="#111" stroke="#111" stroke-width="0.15">20</text>
<line x1="56.30" y1="337.30" x2="60.20" y2="337.30" stroke="#1e1e1e" stroke-width="1.2" />
<text x="55.40" y="340.00" font-size="7.6" text-anchor="end" font-weight="normal" fill="#111" stroke="#111" stroke-width="0.15">0</text>
<line x1="59.70" y1="337.30" x2="207.60" y2="337.30" stroke="#1e1e1e" stroke-width="1.2" />
<line x1="76.67" y1="337.30" x2="76.67" y2="341.10" stroke="#1e1e1e" stroke-width="1.2" />
<text x="78.97" y="348.20" font-size="7.8" text-anchor="end" font-weight="normal" fill="#111" stroke="#111" stroke-width="0.15" transform="rotate(-45 78.97 348.20)">1 cell</text>
<line x1="114.55" y1="337.30" x2="114.55" y2="341.10" stroke="#1e1e1e" stroke-width="1.2" />
<text x="116.84" y="348.20" font-size="7.8" text-anchor="end" font-weight="normal" fill="#111" stroke="#111" stroke-width="0.15" transform="rotate(-45 116.84 348.20)">5 cells</text>
<line x1="152.41" y1="337.30" x2="152.41" y2="341.10" stroke="#1e1e1e" stroke-width="1.2" />
<text x="154.72" y="348.20" font-size="7.8" text-anchor="end" font-weight="normal" fill="#111" stroke="#111" stroke-width="0.15" transform="rotate(-45 154.72 348.20)">10 cells</text>
<line x1="190.28" y1="337.30" x2="190.28" y2="341.10" stroke="#1e1e1e" stroke-width="1.2" />
<text x="192.58" y="348.20" font-size="7.8" text-anchor="end" font-weight="normal" fill="#111" stroke="#111" stroke-width="0.15" transform="rotate(-45 192.58 348.20)">20 cells</text>
<text x="41.80" y="289.50" font-size="10.3" text-anchor="middle" font-weight="normal" fill="#111" stroke="#111" stroke-width="0.15" transform="rotate(-90 41.80 289.50)">Mismatch Rate (%)</text>
<line x1="65.45" y1="315.30" x2="65.45" y2="337.30" stroke="#6262ff" stroke-width="1.2" />
<line x1="73.55" y1="315.30" x2="73.55" y2="337.30" stroke="#6262ff" stroke-width="1.2" />
<line x1="65.45" y1="315.30" x2="73.55" y2="315.30" stroke="#6262ff" stroke-width="1.2" />
<line x1="79.65" y1="300.50" x2="79.65" y2="337.30" stroke="#ff6060" stroke-width="1.2" />
<line x1="88.05" y1="300.50" x2="88.05" y2="337.30" stroke="#ff6060" stroke-width="1.2" />
<line x1="79.65" y1="300.50" x2="88.05" y2="300.50" stroke="#ff6060" stroke-width="1.2" />
<line x1="103.32" y1="327.60" x2="103.32" y2="337.30" stroke="#6262ff" stroke-width="1.2" />
<line x1="111.42" y1="327.60" x2="111.42" y2="337.30" stroke="#6262ff" stroke-width="1.2" />
<line x1="103.32" y1="327.60" x2="111.42" y2="327.60" stroke="#6262ff" stroke-width="1.2" />
<line x1="117.52" y1="310.40" x2="117.52" y2="337.30" stroke="#ff6060" stroke-width="1.2" />
<line x1="125.92" y1="310.40" x2="125.92" y2="337.30" stroke="#ff6060" stroke-width="1.2" />
<line x1="117.52" y1="310.40" x2="125.92" y2="310.40" stroke="#ff6060" stroke-width="1.2" />
<line x1="141.19" y1="334.60" x2="141.19" y2="337.30" stroke="#6262ff" stroke-width="1.2" />
<line x1="149.29" y1="334.60" x2="149.29" y2="337.30" stroke="#6262ff" stroke-width="1.2" />
<line x1="141.19" y1="334.60" x2="149.29" y2="334.60" stroke="#6262ff" stroke-width="1.2" />
<line x1="155.39" y1="309.50" x2="155.39" y2="337.30" stroke="#ff6060" stroke-width="1.2" />
<line x1="163.79" y1="309.50" x2="163.79" y2="337.30" stroke="#ff6060" stroke-width="1.2" />
<line x1="155.39" y1="309.50" x2="163.79" y2="309.50" stroke="#ff6060" stroke-width="1.2" />
<line x1="179.06" y1="336.30" x2="179.06" y2="337.30" stroke="#6262ff" stroke-width="1.2" />
<line x1="187.16" y1="336.30" x2="187.16" y2="337.30" stroke="#6262ff" stroke-width="1.2" />
<line x1="179.06" y1="336.30" x2="187.16" y2="336.30" stroke="#6262ff" stroke-width="1.2" />
<line x1="193.26" y1="320.30" x2="193.26" y2="337.30" stroke="#ff6060" stroke-width="1.2" />
<line x1="201.66" y1="320.30" x2="201.66" y2="337.30" stroke="#ff6060" stroke-width="1.2" />
<line x1="193.26" y1="320.30" x2="201.66" y2="320.30" stroke="#ff6060" stroke-width="1.2" />
<path d="M69.50,257.50 L69.50,249.40 L83.85,249.40 L83.85,270.50" stroke="#1e1e1e" stroke-width="1.1" fill="none"/>
<circle cx="76.67" cy="243.50" r="1.5" fill="#111"/>
<path d="M107.37,277.90 L107.37,249.40 L121.72,249.40 L121.72,255.20" stroke="#1e1e1e" stroke-width="1.1" fill="none"/>
<circle cx="114.55" cy="243.50" r="1.5" fill="#111"/>
<path d="M145.24,322.10 L145.24,249.40 L159.59,249.40 L159.59,260.60" stroke="#1e1e1e" stroke-width="1.1" fill="none"/>
<circle cx="150.11" cy="243.50" r="1.5" fill="#111"/>
<circle cx="154.71" cy="243.50" r="1.5" fill="#111"/>
<path d="M69.60,236.50 L69.60,231.30 L183.30,231.30 L183.30,322.70" stroke="#1e1e1e" stroke-width="1.1" fill="none"/>
<circle cx="126.50" cy="225.30" r="1.5" fill="#111"/>
<line x1="69.60" y1="310.10" x2="69.60" y2="320.40" stroke="#444" stroke-width="0.9" />
<line x1="67.40" y1="310.10" x2="71.80" y2="310.10" stroke="#444" stroke-width="0.9" />
<line x1="67.40" y1="320.40" x2="71.80" y2="320.40" stroke="#444" stroke-width="0.9" />
<line x1="83.70" y1="296.00" x2="83.70" y2="305.00" stroke="#444" stroke-width="0.9" />
<line x1="81.50" y1="296.00" x2="85.90" y2="296.00" stroke="#444" stroke-width="0.9" />
<line x1="81.50" y1="305.00" x2="85.90" y2="305.00" stroke="#444" stroke-width="0.9" />
<line x1="107.50" y1="322.50" x2="107.50" y2="332.50" stroke="#444" stroke-width="0.9" />
<line x1="105.30" y1="322.50" x2="109.70" y2="322.50" stroke="#444" stroke-width="0.9" />
<line x1="105.30" y1="332.50" x2="109.70" y2="332.50" stroke="#444" stroke-width="0.9" />
<line x1="121.60" y1="302.60" x2="121.60" y2="316.80" stroke="#444" stroke-width="0.9" />
<line x1="119.40" y1="302.60" x2="123.80" y2="302.60" stroke="#444" stroke-width="0.9" />
<line x1="119.40" y1="316.80" x2="123.80" y2="316.80" stroke="#444" stroke-width="0.9" />
<line x1="145.40" y1="333.60" x2="145.40" y2="336.50" stroke="#444" stroke-width="0.9" />
<line x1="143.20" y1="333.60" x2="147.60" y2="333.60" stroke="#444" stroke-width="0.9" />
<line x1="143.20" y1="336.50" x2="147.60" y2="336.50" stroke="#444" stroke-width="0.9" />
<line x1="159.50" y1="302.50" x2="159.50" y2="315.50" stroke="#444" stroke-width="0.9" />
<line x1="157.30" y1="302.50" x2="161.70" y2="302.50" stroke="#444" stroke-width="0.9" />
<line x1="157.30" y1="315.50" x2="161.70" y2="315.50" stroke="#444" stroke-width="0.9" />
<line x1="183.30" y1="334.60" x2="183.30" y2="337.00" stroke="#444" stroke-width="0.9" />
<line x1="181.10" y1="334.60" x2="185.50" y2="334.60" stroke="#444" stroke-width="0.9" />
<line x1="181.10" y1="337.00" x2="185.50" y2="337.00" stroke="#444" stroke-width="0.9" />
<line x1="197.40" y1="313.30" x2="197.40" y2="326.10" stroke="#444" stroke-width="0.9" />
<line x1="195.20" y1="313.30" x2="199.60" y2="313.30" stroke="#444" stroke-width="0.9" />
<line x1="195.20" y1="326.10" x2="199.60" y2="326.10" stroke="#444" stroke-width="0.9" />
<circle cx="69.60" cy="263.90" r="1.45" fill="#5050ff"/>
<circle cx="69.60" cy="297.30" r="1.45" fill="#5050ff"/>
<circle cx="69.30" cy="306.70" r="1.45" fill="#5050ff"/>
<circle cx="72.90" cy="313.10" r="1.45" fill="#5050ff"/>
<circle cx="66.10" cy="315.40" r="1.45" fill="#5050ff"/>
<circle cx="69.30" cy="315.00" r="1.45" fill="#5050ff"/>
<circle cx="66.10" cy="321.70" r="1.45" fill="#5050ff"/>
<circle cx="72.90" cy="321.30" r="1.45" fill="#5050ff"/>
<circle cx="66.10" cy="325.40" r="1.45" fill="#5050ff"/>
<circle cx="69.30" cy="324.00" r="1.45" fill="#5050ff"/>
<circle cx="72.90" cy="326.30" r="1.45" fill="#5050ff"/>
<circle cx="71.10" cy="330.80" r="1.45" fill="#5050ff"/>
<circle cx="67.60" cy="333.30" r="1.45" fill="#5050ff"/>
<circle cx="83.70" cy="276.40" r="1.45" fill="#ff5858"/>
<circle cx="83.70" cy="281.50" r="1.45" fill="#ff5858"/>
<circle cx="83.70" cy="290.50" r="1.45" fill="#ff5858"/>
<circle cx="83.70" cy="297.00" r="1.45" fill="#ff5858"/>
<circle cx="81.10" cy="302.30" r="1.45" fill="#ff5858"/>
<circle cx="86.20" cy="302.30" r="1.45" fill="#ff5858"/>
<circle cx="83.70" cy="305.20" r="1.45" fill="#ff5858"/>
<circle cx="80.90" cy="305.00" r="1.45" fill="#ff5858"/>
<circle cx="86.30" cy="304.50" r="1.45" fill="#ff5858"/>
<circle cx="83.70" cy="314.50" r="1.45" fill="#ff5858"/>
<circle cx="83.70" cy="320.50" r="1.45" fill="#ff5858"/>
<circle cx="107.60" cy="283.50" r="1.45" fill="#5050ff"/>
<circle cx="107.60" cy="322.50" r="1.45" fill="#5050ff"/>
<circle cx="104.60" cy="329.40" r="1.45" fill="#5050ff"/>
<circle cx="110.10" cy="329.00" r="1.45" fill="#5050ff"/>
<circle cx="107.10" cy="331.20" r="1.45" fill="#5050ff"/>
<circle cx="104.60" cy="334.80" r="1.45" fill="#5050ff"/>
<circle cx="110.50" cy="334.80" r="1.45" fill="#5050ff"/>
<circle cx="121.60" cy="260.40" r="1.45" fill="#ff5858"/>
<circle cx="121.60" cy="300.10" r="1.45" fill="#ff5858"/>
<circle cx="119.00" cy="314.30" r="1.45" fill="#ff5858"/>
<circle cx="124.50" cy="314.30" r="1.45" fill="#ff5858"/>
<circle cx="121.60" cy="317.30" r="1.45" fill="#ff5858"/>
<circle cx="119.50" cy="320.90" r="1.45" fill="#ff5858"/>
<circle cx="124.50" cy="323.00" r="1.45" fill="#ff5858"/>
<circle cx="121.60" cy="329.60" r="1.45" fill="#ff5858"/>
<circle cx="145.40" cy="327.60" r="1.45" fill="#5050ff"/>
<circle cx="145.40" cy="330.60" r="1.45" fill="#5050ff"/>
<circle cx="141.60" cy="335.60" r="1.45" fill="#5050ff"/>
<circle cx="144.10" cy="336.00" r="1.45" fill="#5050ff"/>
<circle cx="147.10" cy="336.00" r="1.45" fill="#5050ff"/>
<circle cx="149.50" cy="335.60" r="1.45" fill="#5050ff"/>
<circle cx="143.10" cy="334.20" r="1.45" fill="#5050ff"/>
<circle cx="146.60" cy="334.20" r="1.45" fill="#5050ff"/>
<circle cx="159.60" cy="266.50" r="1.45" fill="#ff5858"/>
<circle cx="156.60" cy="306.20" r="1.45" fill="#ff5858"/>
<circle cx="163.00" cy="305.40" r="1.45" fill="#ff5858"/>
<circle cx="156.60" cy="311.90" r="1.45" fill="#ff5858"/>
<circle cx="163.00" cy="313.70" r="1.45" fill="#ff5858"/>
<circle cx="156.60" cy="320.30" r="1.45" fill="#ff5858"/>
<circle cx="163.00" cy="320.90" r="1.45" fill="#ff5858"/>
<circle cx="159.60" cy="326.60" r="1.45" fill="#ff5858"/>
<circle cx="183.40" cy="328.80" r="1.45" fill="#5050ff"/>
<circle cx="179.60" cy="336.60" r="1.45" fill="#5050ff"/>
<circle cx="182.10" cy="337.00" r="1.45" fill="#5050ff"/>
<circle cx="185.10" cy="337.00" r="1.45" fill="#5050ff"/>
<circle cx="187.60" cy="336.60" r="1.45" fill="#5050ff"/>
<circle cx="194.60" cy="303.40" r="1.45" fill="#ff5858"/>
<circle cx="201.00" cy="300.80" r="1.45" fill="#ff5858"/>
<circle cx="197.50" cy="316.10" r="1.45" fill="#ff5858"/>
<circle cx="197.50" cy="325.80" r="1.45" fill="#ff5858"/>
<circle cx="194.10" cy="335.40" r="1.45" fill="#ff5858"/>
<circle cx="201.10" cy="335.40" r="1.45" fill="#ff5858"/>
<circle cx="221.10" cy="262.10" r="1.5" fill="#5050ff"/>
<circle cx="221.10" cy="274.40" r="1.5" fill="#ff5858"/>
<text x="231.70" y="264.60" font-size="7.85" text-anchor="start" font-weight="normal" fill="#111" stroke="#111" stroke-width="0.15">MDA</text>
<text x="231.70" y="276.90" font-size="7.85" text-anchor="start" font-weight="normal" fill="#111" stroke="#111" stroke-width="0.15">MALBAC</text>
</svg>
</body></html>
